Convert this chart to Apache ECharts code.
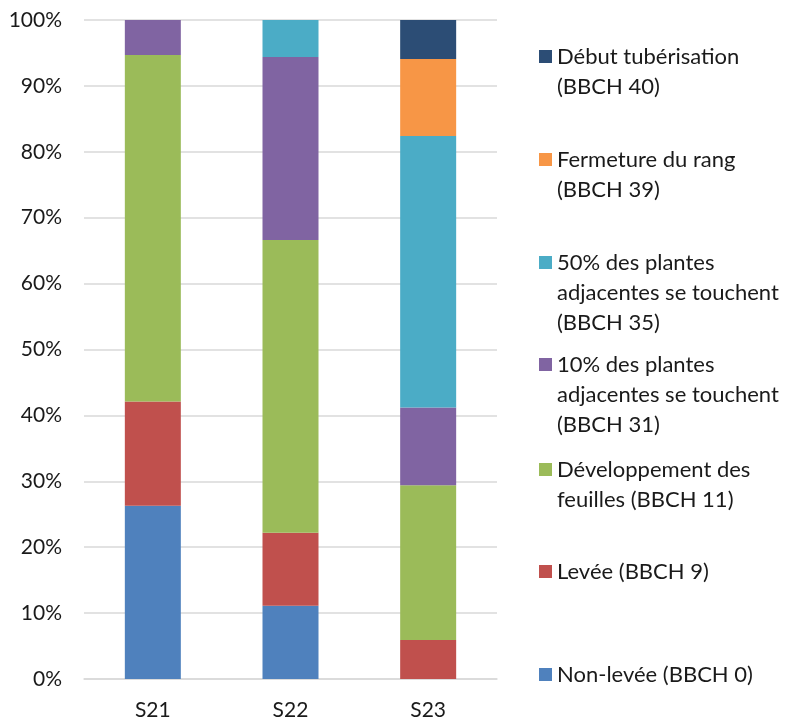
<!DOCTYPE html>
<html>
<head>
<meta charset="utf-8">
<script src="https://cdn.jsdelivr.net/npm/echarts@6/dist/echarts.min.js"></script>
<style>
  html, body { margin: 0; padding: 0; background: #ffffff; }
  #chart { width: 787px; height: 719px; }
</style>
</head>
<body>
<div id="chart"></div>
<script>
// Sites
const categories = ['S21', 'S22', 'S23'];

// Share of plants per growth stage (%), one value per site
const nonLevee      = [26.3, 11.1, 0];
const levee         = [15.8, 11.1, 5.9];
const developpement = [52.6, 44.4, 23.5];
const touchent10    = [5.3, 27.8, 11.8];
const touchent50    = [0, 5.6, 41.2];
const fermeture     = [0, 0, 11.7];
const debutTuber    = [0, 0, 5.9];

// Y axis ticks
const yTicks = [0, 10, 20, 30, 40, 50, 60, 70, 80, 90, 100];

// Stages, bottom of stack first
const stageNames = [
  'Non-levée (BBCH 0)',
  'Levée (BBCH 9)',
  'Développement des\nfeuilles (BBCH 11)',
  '10% des plantes\nadjacentes se touchent\n(BBCH 31)',
  '50% des plantes\nadjacentes se touchent\n(BBCH 35)',
  'Fermeture du rang\n(BBCH 39)',
  'Début tubérisation\n(BBCH 40)'
];
const stageValues = [nonLevee, levee, developpement, touchent10, touchent50, fermeture, debutTuber];
const stageColors = ['#4F81BD', '#C0504D', '#9BBB59', '#8064A2', '#4BACC6', '#F79646', '#2C4D75'];

// Top of each legend square, in pixels
const legendIconTops = [668, 565, 463, 358, 256, 153, 50];

const FONT = 'Lato, "Open Sans", sans-serif';
const TEXT = '#1a1a1a';
const LINE_H = 30;
const ICON = 13;

// One legend per stage so each entry sits at its own height; blank lines are
// prepended so the square lines up with the first line of a wrapped label.
const legends = stageNames.map(function (name, i) {
  const lines = name.split('\n').length;
  const blockH = (2 * lines - 1) * LINE_H;
  return {
    data: [name],
    orient: 'vertical',
    left: 539,
    top: legendIconTops[i] + ICON / 2 - blockH / 2,
    padding: 0,
    itemWidth: ICON,
    itemHeight: ICON,
    icon: 'rect',
    selectedMode: false,
    formatter: function (n) {
      let s = n;
      for (let k = 1; k < lines; k++) s = ' \n' + s;
      return s;
    },
    textStyle: {
      fontFamily: FONT,
      fontSize: 22,
      color: TEXT,
      lineHeight: LINE_H
    }
  };
});

const series = stageNames.map(function (name, i) {
  return {
    name: name,
    type: 'bar',
    stack: 'total',
    barWidth: 56,
    data: stageValues[i],
    itemStyle: { color: stageColors[i] }
  };
});

const chart = echarts.init(document.getElementById('chart'), null, { renderer: 'canvas' });
chart.setOption({
  animation: false,
  backgroundColor: '#ffffff',
  grid: { left: 84, right: 290, top: 20, bottom: 40, containLabel: false, outerBoundsMode: 'none' },
  legend: legends,
  xAxis: {
    type: 'category',
    data: categories,
    axisLine: { show: true, lineStyle: { color: '#d9d9d9', width: 1.5 } },
    axisTick: { show: false },
    axisLabel: { fontFamily: FONT, fontSize: 21, color: TEXT, margin: 21 }
  },
  yAxis: {
    type: 'value',
    min: yTicks[0],
    max: yTicks[yTicks.length - 1],
    interval: yTicks[1] - yTicks[0],
    axisLine: { show: false },
    axisTick: { show: false },
    splitLine: { lineStyle: { color: '#d9d9d9', width: 1.5 } },
    axisLabel: { fontFamily: FONT, fontSize: 21, color: TEXT, margin: 22, formatter: '{value}%' }
  },
  series: series
});
</script>
</body>
</html>
